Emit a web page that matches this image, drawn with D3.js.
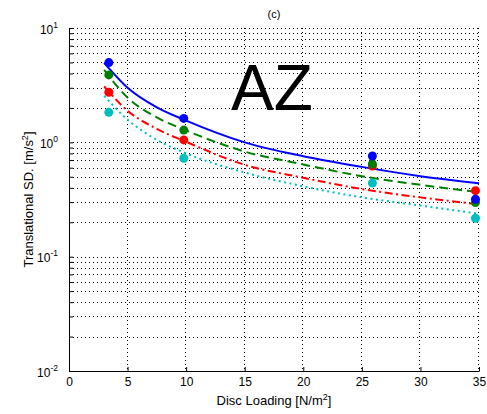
<!DOCTYPE html>
<html><head><meta charset="utf-8">
<script src="https://cdn.jsdelivr.net/npm/d3@7"></script>
<style>
html,body{margin:0;padding:0;background:#fff;}
text{font-family:"Liberation Sans",Arial,Helvetica,sans-serif;fill:#000;}
</style></head>
<body><svg id="c" width="487" height="414"></svg>
<script>
// ---- data ----
const pointX = [3.4, 9.8, 25.9, 34.7];
const blueValues  = [4.98, 1.62, 0.76, 0.318];
const greenValues = [3.89, 1.28, 0.647, 0.297];
const redValues   = [2.74, 1.05, 0.62, 0.378];
const cyanValues  = [1.83, 0.726, 0.44, 0.217];

const fitX = [3, 5, 7.5, 10, 15, 20, 25, 30, 35];
const blueFit  = [4.95, 3.0, 2.02, 1.55, 1.0, 0.757, 0.61, 0.506, 0.439];
const greenFit = [4.3, 2.46, 1.65, 1.27, 0.83, 0.64, 0.505, 0.425, 0.366];
const redFit   = [3.08, 1.89, 1.31, 1.01, 0.636, 0.49, 0.39, 0.33, 0.287];
const cyanFit  = [2.55, 1.58, 1.05, 0.8, 0.545, 0.412, 0.33, 0.28, 0.237];

const xTicks = [0, 5, 10, 15, 20, 25, 30, 35];
const yMajor = [0.01, 0.1, 1, 10];
const yExponents = ["-2", "-1", "0", "1"];

const titleText = "(c)";
const bigLabel = "AZ";

// ---- layout ----
const svg = d3.select("#c");
const L = 69, R = 479, T = 28, B = 371;
const x = d3.scaleLinear().domain([0, 35]).range([L, R]);
const y = d3.scaleLog().domain([0.01, 10]).range([B, T]);

const yMinor = [];
[0.01, 0.1, 1].forEach(d => { for (let k = 1; k <= 9; k++) yMinor.push(d * k); });
yMinor.push(10);

// grid
const grid = svg.append("g").attr("stroke", "#000").attr("stroke-width", 1)
  .attr("stroke-dasharray", "1,3").attr("shape-rendering", "crispEdges");
grid.selectAll("line.h").data(yMinor.filter(v => v > 0.01)).join("line")
  .attr("x1", L).attr("x2", R)
  .attr("y1", d => Math.round(y(d)) + 0.5).attr("y2", d => Math.round(y(d)) + 0.5);
grid.selectAll("line.v").data(xTicks.filter(v => v > 0)).join("line")
  .attr("y1", T).attr("y2", B)
  .attr("x1", d => Math.round(x(d)) - 0.5).attr("x2", d => Math.round(x(d)) - 0.5);

// axes
const xAxis = d3.axisBottom(x).tickValues(xTicks).tickSizeInner(-4).tickSizeOuter(0).tickPadding(6.5);
const gx = svg.append("g").attr("transform", `translate(0,${B})`).call(xAxis);
gx.select(".domain").attr("stroke", "#000");
gx.selectAll("text").attr("font-size", 12).attr("font-family", "Liberation Sans, Arial, sans-serif");

const yAxis = d3.axisLeft(y).tickValues(yMinor).tickSizeInner(-4).tickSizeOuter(0)
  .tickPadding(11).tickFormat(() => "");
const gy = svg.append("g").attr("transform", `translate(${L},0)`).call(yAxis);
gy.select(".domain").attr("stroke", "#000");
gy.selectAll(".tick").filter(d => yMajor.some(m => Math.abs(m - d) < 1e-9)).each(function(d) {
  const i = yMajor.findIndex(m => Math.abs(m - d) < 1e-9);
  const t = d3.select(this).select("text").attr("font-size", 12).attr("dy", "0.42em")
    .attr("font-family", "Liberation Sans, Arial, sans-serif");
  t.append("tspan").text("10");
  t.append("tspan").attr("font-size", 8.5).attr("dy", -6).text(yExponents[i]);
});

// curves
const line = d3.line().x(d => x(d[0])).y(d => y(d[1])).curve(d3.curveMonotoneX);
const series = [
  {fit: cyanFit, pts: cyanValues, color: "#00BFBF", dash: "2,3.5"},
  {fit: redFit, pts: redValues, color: "#FF0000", dash: "8,3.5,2,3.5"},
  {fit: greenFit, pts: greenValues, color: "#008000", dash: "9,5"},
  {fit: blueFit, pts: blueValues, color: "#0000FF", dash: null}
];
series.forEach(s => {
  svg.append("path").datum(fitX.map((v, i) => [v, s.fit[i]]))
    .attr("d", line).attr("fill", "none").attr("stroke", s.color).attr("stroke-width", 2)
    .attr("stroke-dasharray", s.dash);
});
series.forEach(s => {
  svg.append("g").selectAll("circle").data(pointX.map((v, i) => [v, s.pts[i]])).join("circle")
    .attr("cx", d => x(d[0])).attr("cy", d => y(d[1])).attr("r", 4.5).attr("fill", s.color);
});

// texts
svg.append("text").attr("x", (L + R) / 2).attr("y", 18).attr("text-anchor", "middle")
  .attr("font-size", 11).text(titleText);
svg.append("text").attr("x", 231).attr("y", 110).attr("font-size", 64).text(bigLabel);

const xl = svg.append("text").attr("x", (L + R) / 2).attr("y", 405).attr("text-anchor", "middle").attr("font-size", 13);
xl.append("tspan").text("Disc Loading [N/m");
xl.append("tspan").attr("font-size", 9).attr("dy", -5).text("2");
xl.append("tspan").attr("dy", 5).text("]");

const yl = svg.append("text").attr("transform", `translate(33,${(T + B) / 2}) rotate(-90)`)
  .attr("text-anchor", "middle").attr("font-size", 13);
yl.append("tspan").text("Translational SD. [m/s");
yl.append("tspan").attr("font-size", 9).attr("dy", -5).text("2");
yl.append("tspan").attr("dy", 5).text("]");
</script></body></html>
